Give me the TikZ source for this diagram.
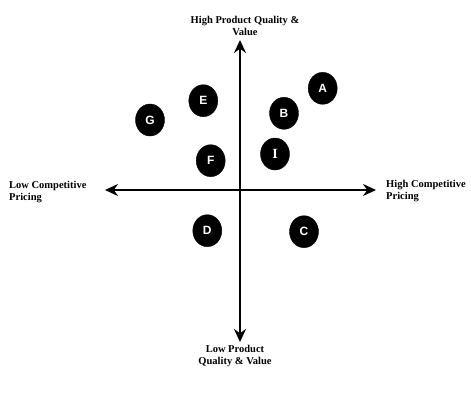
\documentclass[tikz,border=0pt]{standalone}
\usepackage{fontspec}
\setmainfont{Liberation Serif}
\setsansfont{Liberation Sans}
\usepackage{tikz}
\usetikzlibrary{
    arrows.meta,
    shapes.geometric,
    positioning
}
\tikzset{brnd/.style={inner sep=0pt, ellipse, minimum width=29pt, minimum height=32pt, draw=black, fill=black, text=white, font=\sffamily\bfseries\fontsize{12}{12}\selectfont}}
\tikzset{axlbl/.style={inner sep=0pt, font=\bfseries\fontsize{10.5}{12}\selectfont}}
\tikzset{axis/.style={line width=1.4pt, {Stealth[length=13pt,width=12pt]}-{Stealth[length=13pt,width=12pt]}}}

\begin{document}
\begin{tikzpicture}[x=1pt, y=-1pt]
                                \useasboundingbox (0, 0) rectangle (471, 402);
                                \coordinate (qhi) at (240, 40);
                                \coordinate (qlo) at (240, 342);
                                \coordinate (plo) at (105, 190);
                                \coordinate (phi) at (376, 190);
                                \draw[axis] (qlo) -- (qhi);
                                \draw[axis] (plo) -- (phi);
                                \node[axlbl, align=center] (hiq) at (245, 26) {High Product Quality \&\\Value};
                                \node[axlbl, align=center] (loq) at (235, 356) {Low Product\\Quality \& Value};
                                \node[axlbl, align=left, anchor=west] (lop) at (9, 192) {Low Competitive\\Pricing};
                                \node[axlbl, align=left, anchor=west] (hip) at (386, 191) {High Competitive\\Pricing};
                                \foreach \n/\x/\y in {A/322.7/88.3, B/284/113.3, E/203.3/100.7, G/150/120, F/210.7/160.7, D/207.3/230.7, C/304/231.7} {
                                    \node[brnd] (br\n) at (\x, \y) {\n};
                                }
                                \node[brnd, font=\rmfamily\bfseries\fontsize{14}{14}\selectfont] (brI) at (275, 154) {I};
                            \end{tikzpicture}
\end{document}
